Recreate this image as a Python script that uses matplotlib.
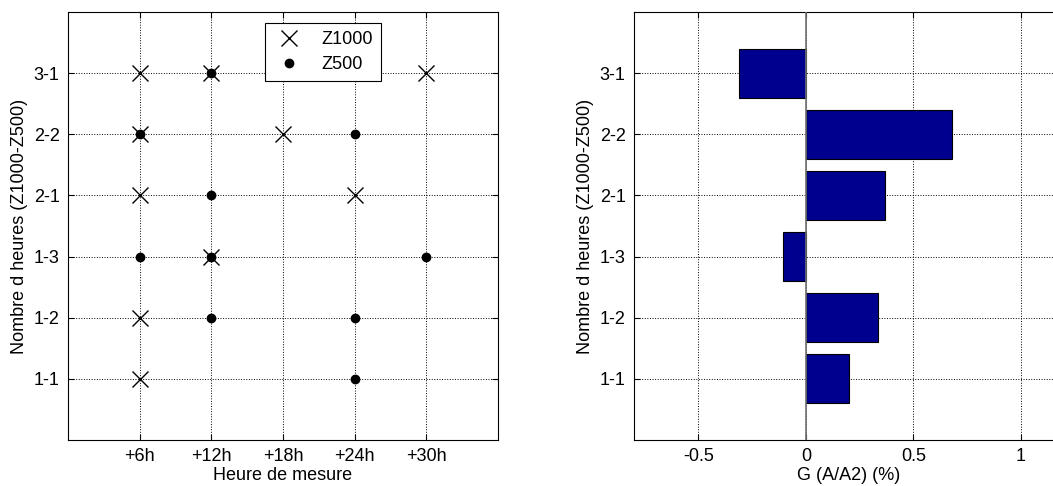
import numpy as np
import matplotlib
matplotlib.use("Agg")
import matplotlib.pyplot as plt

plt.rcParams['font.family'] = ['Liberation Sans', 'DejaVu Sans']
plt.rcParams['font.size'] = 13

# --- DATA ---
ylabels = ["1-1", "1-2", "1-3", "2-1", "2-2", "3-1"]
xticks_h = [6, 12, 18, 24, 30]
xtick_labels = ["+6h", "+12h", "+18h", "+24h", "+30h"]

# Z1000 (crosses): hour, class
z1000_h = [6, 12, 30, 6, 18, 6, 24, 12, 6, 6]
z1000_c = ["3-1", "3-1", "3-1", "2-2", "2-2", "2-1", "2-1", "1-3", "1-2", "1-1"]
# Z500 (dots)
z500_h = [12, 6, 24, 12, 6, 12, 30, 12, 24, 24]
z500_c = ["3-1", "2-2", "2-2", "2-1", "1-3", "1-3", "1-3", "1-2", "1-2", "1-1"]

# gain per class
gain = [0.202, 0.337, -0.105, 0.37, 0.681, -0.311]

ypos = {lab: i + 1 for i, lab in enumerate(ylabels)}

fig = plt.figure(figsize=(10.53, 4.86), dpi=100)
ax1 = fig.add_axes([0.0646, 0.0947, 0.4084, 0.8807])
ax2 = fig.add_axes([0.602, 0.0947, 0.4084, 0.8807])

def style(ax):
    ax.tick_params(direction='in', top=True, right=True, length=4, width=0.8, pad=6)
    ax.grid(True, linestyle=':', color='black', linewidth=0.7)
    ax.set_axisbelow(True)
    for s in ax.spines.values():
        s.set_linewidth(0.8)

# --- LEFT PANEL ---
ax1.plot(z1000_h, [ypos[c] for c in z1000_c], 'x', color='black', ms=12, mew=1.0,
         linestyle='none', label='Z1000')
ax1.plot(z500_h, [ypos[c] for c in z500_c], 'o', color='black', ms=6,
         linestyle='none', label='Z500')
ax1.set_xlim(0, 36)
ax1.set_ylim(0, 7)
ax1.set_xticks(xticks_h)
ax1.set_xticklabels(xtick_labels)
ax1.set_yticks(range(1, len(ylabels) + 1))
ax1.set_yticklabels(ylabels)
ax1.set_xlabel("Heure de mesure", labelpad=1)
ax1.set_ylabel("Nombre d heures (Z1000-Z500)", labelpad=4)
style(ax1)
leg = ax1.legend(loc='upper left', bbox_to_anchor=(0.458, 0.974), borderaxespad=0,
                 fancybox=False, edgecolor='black', framealpha=1, borderpad=0.45,
                 labelspacing=0.45, handletextpad=0.9, handlelength=1.8)
leg.get_frame().set_linewidth(0.8)

# --- RIGHT PANEL ---
ax2.barh(range(1, len(ylabels) + 1), gain, height=0.8, color='#00008f',
         edgecolor='black', linewidth=0.8, zorder=2)
ax2.axvline(0, color='#707070', linewidth=1.2, zorder=3)
ax2.set_xlim(-0.8, 1.2)
ax2.set_ylim(0, 7)
ax2.set_xticks([-0.5, 0, 0.5, 1])
ax2.set_xticklabels(["-0.5", "0", "0.5", "1"])
ax2.set_yticks(range(1, len(ylabels) + 1))
ax2.set_yticklabels(ylabels)
ax2.set_xlabel("G (A/A2) (%)", labelpad=1)
ax2.set_ylabel("Nombre d heures (Z1000-Z500)")
style(ax2)

fig.savefig("out.png", dpi=100)
